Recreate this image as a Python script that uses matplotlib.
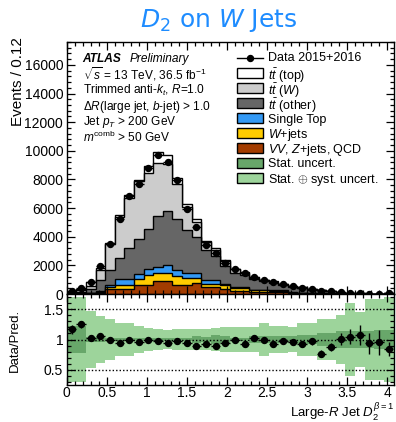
import numpy as np
import matplotlib
matplotlib.use("Agg")
import matplotlib.pyplot as plt
from matplotlib.ticker import MultipleLocator, FuncFormatter
from matplotlib.patches import Rectangle
from matplotlib.lines import Line2D

plt.rcParams['font.family'] = ['Liberation Sans', 'DejaVu Sans']
plt.rcParams['mathtext.fontset'] = 'custom'
plt.rcParams['mathtext.rm'] = 'Liberation Sans'
plt.rcParams['mathtext.it'] = 'Liberation Sans:italic'
plt.rcParams['mathtext.bf'] = 'Liberation Sans:bold'

# ---------------- data ----------------
bin_width = 0.12
n_bins = 34
edges = np.arange(n_bins + 1) * bin_width

vv_zjets_qcd = [10, 20, 40, 80, 370, 380, 380, 650, 650, 880, 880, 660, 660, 790, 490, 490, 370,
                230, 230, 150, 150, 140, 140, 50, 40, 30, 25, 18, 10, 6, 4, 3, 2, 6]
wjets = [5, 10, 20, 40, 120, 240, 240, 420, 650, 610, 590, 590, 450, 360, 230, 230, 230,
         190, 190, 100, 100, 100, 90, 40, 35, 25, 20, 14, 8, 5, 3, 2, 2, 4]
single_top = [5, 10, 30, 80, 160, 400, 400, 350, 420, 400, 530, 400, 380, 340, 230, 230, 120,
              70, 70, 50, 50, 50, 50, 30, 25, 20, 15, 13, 7, 4, 3, 2, 1, 4]
tt_other = [40, 80, 280, 750, 1000, 1520, 2200, 2450, 2850, 3540, 3780, 3570, 3010, 2500, 2100, 1680, 1230,
            1010, 840, 750, 580, 500, 350, 390, 320, 225, 215, 145, 70, 43, 26, 20, 15, 48]
tt_W = [110, 180, 180, 700, 1850, 2860, 3480, 4000, 3910, 3720, 3320, 2490, 1600, 1010, 600, 470, 330,
        240, 170, 100, 90, 70, 60, 45, 40, 30, 25, 20, 10, 6, 4, 3, 2, 6]
tt_top = [27, 36, 256, 170, 56, 147, 199, 120, 429, 748, 626, 402, 184, 211, 60, 91, 60,
          38, 48, 36, 30, 32, 21, 18, 13, 10, 12, 6, 4, 3, 2, 2, 1, 3]
data_counts = [230, 420, 830, 1930, 3520, 5270, 6830, 7670, 8820, 9700, 9240, 7950, 5970, 4690, 3450, 2840, 2200,
               1760, 1440, 1210, 1000, 830, 690, 550, 440, 330, 240, 190, 110, 70, 45, 30, 22, 60]
# relative uncertainties of the prediction
stat_unc = [0.22, 0.22, 0.04, 0.04, 0.02, 0.02, 0.02, 0.02, 0.02, 0.02, 0.02, 0.02, 0.03, 0.06, 0.04, 0.08, 0.05,
            0.03, 0.03, 0.05, 0.05, 0.06, 0.06, 0.05, 0.08, 0.08, 0.11, 0.11, 0.14, 0.14, 0.14, 0.14, 0.15, 0.15]
total_unc = [0.70, 0.70, 0.47, 0.39, 0.33, 0.28, 0.28, 0.22, 0.19, 0.17, 0.16, 0.17, 0.17, 0.18, 0.18, 0.19, 0.20,
             0.21, 0.21, 0.21, 0.27, 0.22, 0.22, 0.20, 0.28, 0.28, 0.33, 0.33, 0.40, 0.60, 0.46, 0.67, 0.67, 0.70]

components = [
    (vv_zjets_qcd, '#a33c00', r'$VV$, $Z$+jets, QCD'),
    (wjets, '#ffcc00', r'$W$+jets'),
    (single_top, '#3399f5', 'Single Top'),
    (tt_other, '#666666', r'$t\bar{t}$ (other)'),
    (tt_W, '#cccccc', r'$t\bar{t}$ ($W$)'),
    (tt_top, '#ffffff', r'$t\bar{t}$ (top)'),
]
col_stat = '#68a76a'
col_tot = '#9dd49b'

# ---------------- figure ----------------
W, H = 396, 422
fig = plt.figure(figsize=(W / 100, H / 100), dpi=100)
L, R = 66.7, 393.5
ax = fig.add_axes([L / W, 1 - 294 / H, (R - L) / W, (294 - 42) / H])
axr = fig.add_axes([L / W, 1 - 385 / H, (R - L) / W, (385 - 294) / H])

centers = 0.5 * (edges[1:] + edges[:-1])
data = np.array(data_counts, float)

cums = []
run = np.zeros(n_bins)
for vals, c, lab in components:
    run = run + np.array(vals, float)
    cums.append(run.copy())
total = cums[-1]

for (vals, c, lab), cum in reversed(list(zip(components, cums))):
    ax.stairs(cum, edges, baseline=0, fill=True, facecolor=c, edgecolor='black', lw=1.0)

ax.errorbar(centers, data, xerr=bin_width / 2, yerr=np.sqrt(data), fmt='o', color='black',
            ms=4.3, elinewidth=1.0, capsize=0, zorder=5)

TL = 10
ax.set_xlim(0, 4.08)
ax.set_ylim(0, 17600)
ax.yaxis.set_major_locator(MultipleLocator(2000))
ax.yaxis.set_minor_locator(MultipleLocator(400))
ax.xaxis.set_major_locator(MultipleLocator(0.5))
ax.xaxis.set_minor_locator(MultipleLocator(0.1))
ax.tick_params(axis='both', which='both', direction='in', top=True, right=True, labelsize=TL)
ax.tick_params(which='major', length=6, width=0.9)
ax.tick_params(which='minor', length=3, width=0.9)
ax.tick_params(axis='y', pad=2.5)
ax.set_xticklabels([])
for s in ax.spines.values():
    s.set_linewidth(1.0)

# annotations
AF = 8.6
tx = 0.049
ax.text(tx, 0.933, 'ATLAS', transform=ax.transAxes, fontsize=AF, fontweight='bold',
        style='italic', va='center', ha='left')
ax.text(0.1916, 0.933, 'Preliminary', transform=ax.transAxes, fontsize=AF,
        style='italic', va='center', ha='left')
lines = [r'$\sqrt{s}$ = 13 TeV, 36.5 fb$^{-1}$',
         r'Trimmed anti-$k_{t}$, $R$=1.0',
         r'$\Delta R$(large jet, $b$-jet) > 1.0',
         r'Jet $p_{T}$ > 200 GeV',
         r'$m^{\rm comb}$ > 50 GeV']
ys = [0.874, 0.806, 0.744, 0.684, 0.622]
for t, y in zip(lines, ys):
    ax.text(tx, y, t, transform=ax.transAxes, fontsize=AF, va='center', ha='left')

# legend (manual)
lx0, lx1, ltx = 0.521, 0.601, 0.616
ly0, dy = 0.935, 0.0592
bh = 0.040
ax.add_line(Line2D([lx0, lx1], [ly0, ly0], transform=ax.transAxes, color='black', lw=1.0))
ax.add_line(Line2D([(lx0 + lx1) / 2], [ly0], transform=ax.transAxes, color='black',
                   marker='o', ms=4.3))
ax.text(ltx, ly0, 'Data 2015+2016', transform=ax.transAxes, fontsize=9, va='center', ha='left')
leg_entries = [(c, lab) for vals, c, lab in reversed(components)] + \
              [(col_stat, 'Stat. uncert.'), (col_tot, r'Stat. $\oplus$ syst. uncert.')]
for i, (c, lab) in enumerate(leg_entries, start=1):
    y = ly0 - i * dy
    ax.add_patch(Rectangle((lx0, y - bh / 2), lx1 - lx0, bh, transform=ax.transAxes,
                           facecolor=c, edgecolor='black', lw=1.0))
    ax.text(ltx, y, lab, transform=ax.transAxes, fontsize=9, va='center_baseline', ha='left')

# ---------------- ratio ----------------
tot_u = np.array(total_unc)
st_u = np.array(stat_unc)
axr.stairs(1 + tot_u, edges, baseline=1 - tot_u, fill=True, color=col_tot, lw=0)
axr.stairs(1 + st_u, edges, baseline=1 - st_u, fill=True, color=col_stat, lw=0)
for yv in (0.5, 1.0, 1.5):
    axr.axhline(yv, color='black', ls=(0, (1, 1.5)), lw=1.0)
ratio = data / total
axr.errorbar(centers, ratio, xerr=bin_width / 2, yerr=np.sqrt(data) / total, fmt='o',
             color='black', ms=4.3, elinewidth=1.0, capsize=0, zorder=5)
axr.set_xlim(0, 4.08)
axr.set_ylim(0.25, 1.75)
axr.yaxis.set_major_locator(MultipleLocator(0.5))
axr.yaxis.set_minor_locator(MultipleLocator(0.1))
axr.xaxis.set_major_locator(MultipleLocator(0.5))
axr.xaxis.set_minor_locator(MultipleLocator(0.1))
axr.yaxis.set_major_formatter(FuncFormatter(lambda v, p: f'{v:g}'))
axr.xaxis.set_major_formatter(FuncFormatter(lambda v, p: f'{v:g}'))
axr.tick_params(axis='both', which='both', direction='in', top=True, right=True, labelsize=TL)
axr.tick_params(which='major', length=6, width=0.9)
axr.tick_params(which='minor', length=3, width=0.9)
axr.tick_params(axis='x', pad=0.8)
axr.tick_params(axis='y', pad=2.5)
for s in axr.spines.values():
    s.set_linewidth(1.0)

# labels
fig.text(18 / W, 1 - 37 / H, 'Events / 0.12', rotation=90, ha='center', va='top', fontsize=11)
fig.text(15 / W, 1 - 340 / H, 'Data/Pred.', rotation=90, ha='center', va='center', fontsize=9.5)
fig.text(R / W, 1 - 417 / H, r'Large-$R$ Jet $D_{2}^{\beta=1}$', ha='right', va='baseline', fontsize=9.5)
fig.text(219 / W, 1 - 20 / H, r'$D_2$ on $W$ Jets', ha='center', va='center', fontsize=18,
         color='#1e8cff', family='DejaVu Sans', math_fontfamily='dejavusans')

fig.savefig('out.png', dpi=100)
